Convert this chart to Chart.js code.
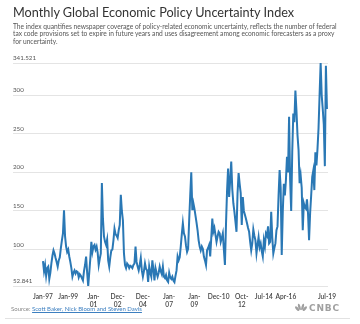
<!DOCTYPE html>
<html>
<head>
<meta charset="utf-8">
<script src="https://cdn.jsdelivr.net/npm/chart.js@4/dist/chart.umd.min.js"></script>
<style>
  html, body { margin:0; padding:0; background:#fff; }
  body { width:360px; height:324px; position:relative; overflow:hidden; font-family:"Lato","Open Sans",sans-serif; }
  #title { position:absolute; left:13px; top:4px; font-size:12.7px; line-height:16px; color:#333; font-weight:400; white-space:nowrap; }
  #sub { position:absolute; left:13px; top:23px; font-size:6.65px; line-height:7.3px; color:#555; white-space:nowrap; }
  #chartwrap { position:absolute; left:0; top:0; width:360px; height:324px; }
  #src { position:absolute; left:11px; top:305px; font-size:6px; line-height:7px; color:#888; white-space:nowrap; }
  #src a { color:#3c7fc0; text-decoration:underline; }
  #rule { position:absolute; left:5px; top:318px; width:345px; height:1px; background:#e2e2e2; }
  #logo { position:absolute; left:295px; top:303px; font-family:"DejaVu Sans",sans-serif; font-weight:bold; font-size:9px; letter-spacing:0.8px; color:#a0a0a0; white-space:nowrap; line-height:10px; }
  #logo svg { vertical-align:-1px; margin-right:2px; }
</style>
</head>
<body>
<div id="chartwrap"><canvas id="c" width="360" height="324"></canvas></div>
<div id="title">Monthly Global Economic Policy Uncertainty Index</div>
<div id="sub">The index quantifies newspaper coverage of policy-related economic uncertainty, reflects the number of federal<br>tax code provisions set to expire in future years and uses disagreement among economic forecasters as a proxy<br>for uncertainty.</div>
<div id="src">Source: <a>Scott Baker, Nick Bloom and Steven Davis</a></div>
<div id="logo"><svg width="12" height="9" viewBox="0 0 11 8"><g fill="#a0a0a0"><ellipse cx="2" cy="5" rx="1.2" ry="2.6" transform="rotate(-40 2 5)"/><ellipse cx="4" cy="3.5" rx="1.1" ry="3" transform="rotate(-15 4 3.5)"/><ellipse cx="7" cy="3.5" rx="1.1" ry="3" transform="rotate(15 7 3.5)"/><ellipse cx="9" cy="5" rx="1.2" ry="2.6" transform="rotate(40 9 5)"/></g></svg>CNBC</div>
<div id="rule"></div>
<script>
// Month index 0 = Jan-97 ... 270 = Jul-19
const startYear = 1997;
const epuValues = [
  85,72,80,66,76,78,62,70,82,92,99,95,
  89,84,78,86,90,102,112,121,151,117,104,97,
  100,91,84,76,65,70,73,69,72,71,64,68,
  66,63,60,72,80,91,70,52.841,70,88,110,97,
  104,106,100,104,96,80,88,95,186,140,117,110,
  106,113,86,78,90,99,100,112,127,120,118,115,
  125,132,171,150,138,95,80,76,82,80,76,79,
  78,76,80,82,104,84,78,73,80,89,73,65,
  72,82,75,73,58,78,70,65,86,74,60,76,
  70,65,70,78,72,68,78,65,63,67,60,58,
  70,64,62,65,60,58,66,73,91,86,90,104,
  120,134,121,117,105,97,101,138,170,200,151,160,
  153,144,135,125,112,104,99,104,101,91,86,80,
  99,102,106,91,115,140,123,128,119,110,117,123,
  121,110,115,121,100,80,132,175,205,168,190,214,
  178,160,149,136,123,173,199,185,173,132,168,150,
  145,140,134,128,123,110,99,108,126,118,112,95,
  106,116,103,108,98,91,112,104,121,118,130,108,
  110,149,116,95,102,108,125,130,170,203,180,93,
  149,185,170,190,220,200,272,190,150,226,276,265,
  306,280,248,229,186,196,180,125,160,155,153,165,
  147,112,147,170,194,202,177,226,209,230,257,300,
  341.521,300,282,262,208,338,282
];
const xTickIndex = [0, 24, 48, 71, 95, 120, 144, 167, 189, 210, 231, 270];
const xTickLabels = ["Jan-97", "Jan-99", ["Jan-","01"], ["Dec-","02"], ["Dec-","04"], ["Jan-","07"], ["Jan-","09"], "Dec-10", ["Oct-","12"], "Jul-14", "Apr-16", "Jul-19"];
const yTickValues = [52.841, 100, 150, 200, 250, 300, 341.521];
const yTickLabels = ["52.841", "100", "150", "200", "250", "300", "341.521"];

const points = epuValues.map((v, i) => ({ x: i, y: v }));

new Chart(document.getElementById('c'), {
  type: 'line',
  data: {
    datasets: [{
      data: points,
      borderColor: '#2a78b5',
      borderWidth: 2,
      pointRadius: 0,
      tension: 0,
      fill: false
    }]
  },
  options: {
    responsive: false,
    animation: false,
    events: [],
    layout: { padding: { top: 63, left: 13, right: 32, bottom: 0 } },
    plugins: { legend: { display: false }, title: { display: false }, tooltip: { enabled: false } },
    scales: {
      x: {
        type: 'linear',
        min: -28.5,
        max: 271,
        afterBuildTicks: (s) => { s.ticks = xTickIndex.map(v => ({ value: v })); },
        afterFit: (s) => { s.height = 38; },
        grid: { display: false, drawTicks: false },
        border: { display: false },
        ticks: {
          autoSkip: false,
          maxRotation: 0,
          padding: 7,
          color: '#444',
          font: { family: 'Lato, "Open Sans", sans-serif', size: 6.6, weight: '600', lineHeight: 1.15 },
          callback: (v) => { const k = xTickIndex.indexOf(v); return k >= 0 ? xTickLabels[k] : ''; }
        }
      },
      y: {
        min: 52.841,
        max: 341.521,
        afterBuildTicks: (s) => { s.ticks = yTickValues.map(v => ({ value: v })); },
        afterFit: (s) => { s.width = 0; },
        grid: { color: '#e4e4e4', lineWidth: 1, drawTicks: false },
        border: { display: false },
        ticks: {
          mirror: true,
          padding: 0,
          labelOffset: -5,
          color: '#555',
          font: { family: 'Lato, "Open Sans", sans-serif', size: 6.2 },
          callback: (v) => { const k = yTickValues.indexOf(v); return k >= 0 ? yTickLabels[k] : ''; }
        }
      }
    }
  }
});
</script>
</body>
</html>
